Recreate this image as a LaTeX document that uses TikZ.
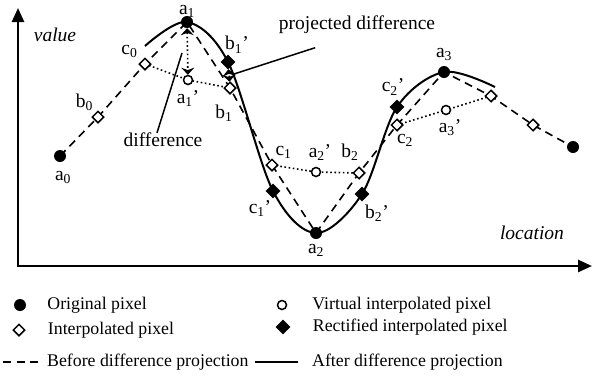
\documentclass[tikz,border=0pt]{standalone}
\usepackage{fontspec}
\setmainfont{Liberation Serif}
\usetikzlibrary{arrows.meta,positioning,shapes.geometric}

\begin{document}
\begin{tikzpicture}[
  x=1pt, y=-1pt,
  orig/.style={circle, fill=black, inner sep=0pt, minimum size=12pt},
  virt/.style={circle, draw, fill=white, line width=1.5pt, inner sep=0pt, minimum size=9pt},
  interp/.style={diamond, draw, fill=white, line width=1.5pt, inner sep=0pt, minimum size=12pt},
  rectified/.style={diamond, fill=black, inner sep=0pt, minimum size=15pt},
  lbl/.style={inner sep=0pt, font=\fontsize{19.5}{22}\selectfont},
  keytext/.style={inner sep=0pt, font=\fontsize{17.8}{21}\selectfont},
  axisline/.style={line width=2.5pt, {Triangle[length=14pt, width=12pt]}-{Triangle[length=14pt, width=12pt]}},
  dashedcurve/.style={line width=1.6pt, dash pattern=on 8pt off 5.5pt},
  solidcurve/.style={line width=2pt},
  virtline/.style={line width=1.6pt, dash pattern=on 1.6pt off 2.6pt},
  diffarrow/.style={line width=1.6pt, dash pattern=on 1.6pt off 2.6pt, {Stealth[length=7pt, width=13pt]}-{Stealth[length=7pt, width=13pt]}},
  leader/.style={line width=1.5pt}
]
  \useasboundingbox (0,0) rectangle (593,389);

  % axes
  \coordinate (ytop) at (18,8);
  \coordinate (origin) at (18,266);
  \coordinate (xend) at (592,266);
  \draw[axisline] (ytop) -- (origin) -- (xend);
  \node[lbl] (vlab) at (55,35) {\textit{value}};
  \node[lbl] (llab) at (532,233) {\textit{location}};

  % sample positions
  \coordinate (a0) at (60,156);
  \coordinate (b0) at (98,117);
  \coordinate (c0) at (145,64);
  \coordinate (a1) at (187,22);
  \coordinate (a1p) at (188,80);
  \coordinate (b1) at (230,88);
  \coordinate (b1p) at (228,62);
  \coordinate (c1) at (272,165);
  \coordinate (c1p) at (273,191);
  \coordinate (a2p) at (316,172);
  \coordinate (a2) at (316,233);
  \coordinate (b2) at (359,173);
  \coordinate (b2p) at (362,194);
  \coordinate (c2) at (397,125);
  \coordinate (c2p) at (397,107);
  \coordinate (a3) at (444,72);
  \coordinate (a3p) at (446,110);
  \coordinate (b3) at (491,96);
  \coordinate (c3) at (533,125);
  \coordinate (a4) at (573,147);
  \coordinate (s0) at (145,46);
  \coordinate (s1) at (495,87);

  % curves
  \draw[dashedcurve] (a0) -- (b0) -- (c0) -- (a1) -- (b1) -- (c1) -- (a2) -- (b2) -- (c2) -- (a3) -- (b3) -- (c3) -- (a4);
  \draw[solidcurve] plot[smooth, tension=0.55] coordinates {(s0) (a1) (b1p) (c1p) (a2) (b2p) (c2p) (a3) (s1)};
  \draw[virtline] (c0) -- (a1p) -- (b1);
  \draw[virtline] (c1) -- (a2p) -- (b2);
  \draw[virtline] (c2) -- (a3p) -- (b3);

  % markers
  \node[orig] (a0mk) at (a0) {};
  \node[interp] (b0mk) at (b0) {};
  \node[interp] (c0mk) at (c0) {};
  \node[orig] (a1mk) at (a1) {};
  \node[virt] (a1pmk) at (a1p) {};
  \node[interp] (b1mk) at (b1) {};
  \node[rectified] (b1pmk) at (b1p) {};
  \node[interp] (c1mk) at (c1) {};
  \node[rectified] (c1pmk) at (c1p) {};
  \node[virt] (a2pmk) at (a2p) {};
  \node[orig] (a2mk) at (a2) {};
  \node[interp] (b2mk) at (b2) {};
  \node[rectified] (b2pmk) at (b2p) {};
  \node[interp] (c2mk) at (c2) {};
  \node[rectified] (c2pmk) at (c2p) {};
  \node[orig] (a3mk) at (a3) {};
  \node[virt] (a3pmk) at (a3p) {};
  \node[interp] (b3mk) at (b3) {};
  \node[interp] (c3mk) at (c3) {};
  \node[orig] (a4mk) at (a4) {};

  % differences
  \draw[diffarrow] (a1mk) -- (a1pmk);
  \draw[diffarrow] (b1mk) -- (b1pmk);

  % labels
  \node[lbl, below=9pt of a0mk, xshift=3pt] (la0) {a\textsubscript{0}};
  \node[lbl, above left=2.5pt and 1.5pt of b0mk] (lb0) {b\textsubscript{0}};
  \node[lbl, above left=3pt and 4pt of c0mk] (lc0) {c\textsubscript{0}};
  \node[lbl, above=-2pt of a1mk] (la1) {a\textsubscript{1}};
  \node[lbl, below=5pt of a1pmk] (la1p) {a\textsubscript{1}'};
  \node[lbl, below=10pt of b1mk, xshift=-6pt] (lb1) {b\textsubscript{1}};
  \node[lbl, above=1pt of b1pmk, xshift=9pt] (lb1p) {b\textsubscript{1}'};
  \node[lbl, above right=3pt and 0pt of c1mk] (lc1) {c\textsubscript{1}};
  \node[lbl, above=6pt of a2pmk, xshift=4pt] (la2p) {a\textsubscript{2}'};
  \node[lbl, above=5.5pt of b2mk, xshift=-9pt] (lb2) {b\textsubscript{2}};
  \node[lbl, below=2pt of c1pmk, xshift=-13pt] (lc1p) {c\textsubscript{1}'};
  \node[lbl, below=3pt of b2pmk, xshift=15pt] (lb2p) {b\textsubscript{2}'};
  \node[lbl, below=4.5pt of a2mk] (la2) {a\textsubscript{2}};
  \node[lbl, below=2.5pt of c2mk, xshift=8pt] (lc2) {c\textsubscript{2}};
  \node[lbl, above=4pt of c2pmk, xshift=-4pt] (lc2p) {c\textsubscript{2}'};
  \node[lbl, above=4.5pt of a3mk] (la3) {a\textsubscript{3}};
  \node[lbl, below=4pt of a3pmk, xshift=4pt] (la3p) {a\textsubscript{3}'};

  % callouts
  \node[lbl] (ldiff) at (163,140) {difference};
  \coordinate (dtip) at (182,53);
  \draw[leader] ([xshift=-6pt]ldiff.north) -- (dtip);
  \node[lbl] (lproj) at (357,25) {projected difference};
  \coordinate (ptip) at (234,74);
  \draw[leader, shorten <=44pt] (lproj.south) -- (ptip);

  % legend
  \node[orig] (korig) at (20,305) {};
  \node[keytext, right=21pt of korig] (torig) {Original pixel};
  \node[virt] (kvirt) at (282,305) {};
  \node[keytext, right=25pt of kvirt] (tvirt) {Virtual interpolated pixel};
  \node[interp] (kinterp) at (19,330) {};
  \node[keytext, right=22pt of kinterp] (tinterp) {Interpolated pixel};
  \node[rectified] (krect) at (283,327) {};
  \node[keytext, right=22pt of krect] (trect) {Rectified interpolated pixel};
  \coordinate (kb1) at (3,362);
  \coordinate (kb2) at (38,362);
  \draw[dashedcurve] (kb1) -- (kb2);
  \node[keytext, right=9pt of kb2] (tbefore) {Before difference projection};
  \coordinate (ka1) at (255,362);
  \coordinate (ka2) at (298,362);
  \draw[solidcurve] (ka1) -- (ka2);
  \node[keytext, right=14pt of ka2] (tafter) {After difference projection};
\end{tikzpicture}
\end{document}
